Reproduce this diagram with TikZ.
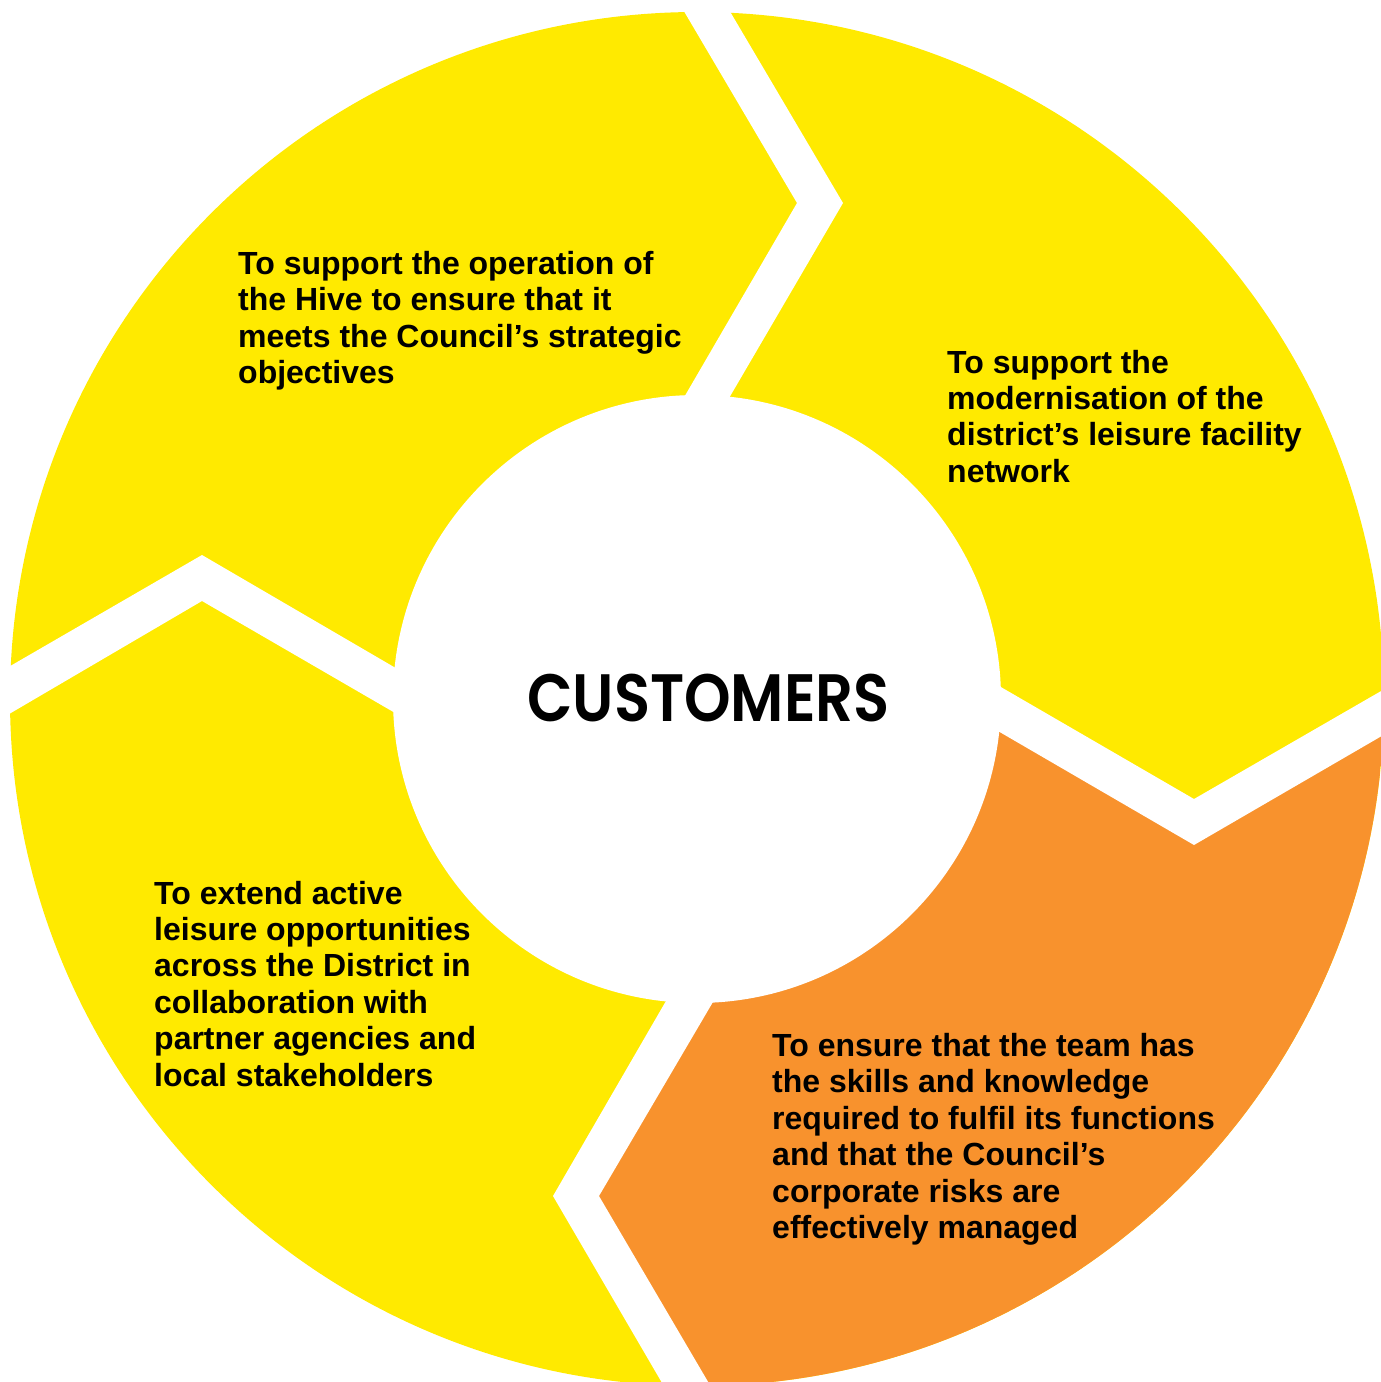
\documentclass[tikz,border=0pt]{standalone}
\usepackage{fontspec}
\setmainfont{Liberation Sans}
\newfontfamily\custfont{Poppins SemiBold}
\begin{document}
\begin{tikzpicture}[x=1pt,y=-1pt,line join=round]
	\definecolor{lemon}{RGB}{255,234,0}
	\definecolor{tangerine}{RGB}{248,146,45}
	% multi-line nodes sit on their last baseline
	\tikzset{aim/.style={anchor=base west,inner sep=0pt,align=left,
			font=\fontsize{32}{36.4}\selectfont\bfseries}}
	\useasboundingbox (0,0) rectangle (1381,1382);
	
	\def\R{687}
	\def\r{304}
	\path
	(697,699) coordinate (O);
	
	% ring
	\fill[lemon] (O) circle (\R);
	\begin{scope}
		\clip (O) circle (\R);
		\fill[tangerine] (O)--(905,655)--(1194,822)--(1473,660)
		--(1473,1472)--(737,1472)--(576,1196)--(744,908)--cycle;
	\end{scope}
	
	% chevron gaps
	\def\T{
		(629,-82)--(797,203)--(629,492)--(673,494)--(843,203)--(676,-80)--cycle
	}
	\def\S{
		(906,632)--(1194,799)--(1473,638)--(1473,683)--(1194,845)--(905,677)--cycle
	}
	\def\B{
		(721,906)--(553,1196)--(714,1472)--(761,1472)--(599,1196)--(767,910)--cycle
	}
	\def\W{
		(-83,720)--(202,555)--(490,723)--(490,768)--(202,601)--(-83,768)--cycle
	}
	\fill[white] \T \S \B \W;
	%\draw[red] \T \S \B \W;
	\fill[white] (O) circle (\r);
	
	\node[aim] (hive) at (238,383.7) {To support the operation of\\the Hive to ensure that it\\meets the Council’s strategic\\objectives};
	\node[aim] (network) at (947,482.2) {To support the\\modernisation of the\\district’s leisure facility\\network};
	\node[aim] (district) at (154,1086) {To extend active\\leisure opportunities\\across the District in\\collaboration with\\partner agencies and\\local stakeholders};
	\node[aim] (team) at (772,1238.5) {To ensure that the team has\\the skills and knowledge\\required to fulfil its functions\\and that the Council’s\\corporate risks are\\effectively managed};
	
	\node[inner sep=0pt,font=\custfont\fontsize{67}{67}\selectfont] (cust) at (708.5,698.5) {\scalebox{0.885}[1]{CUSTOMERS}};
\end{tikzpicture}
\end{document}
